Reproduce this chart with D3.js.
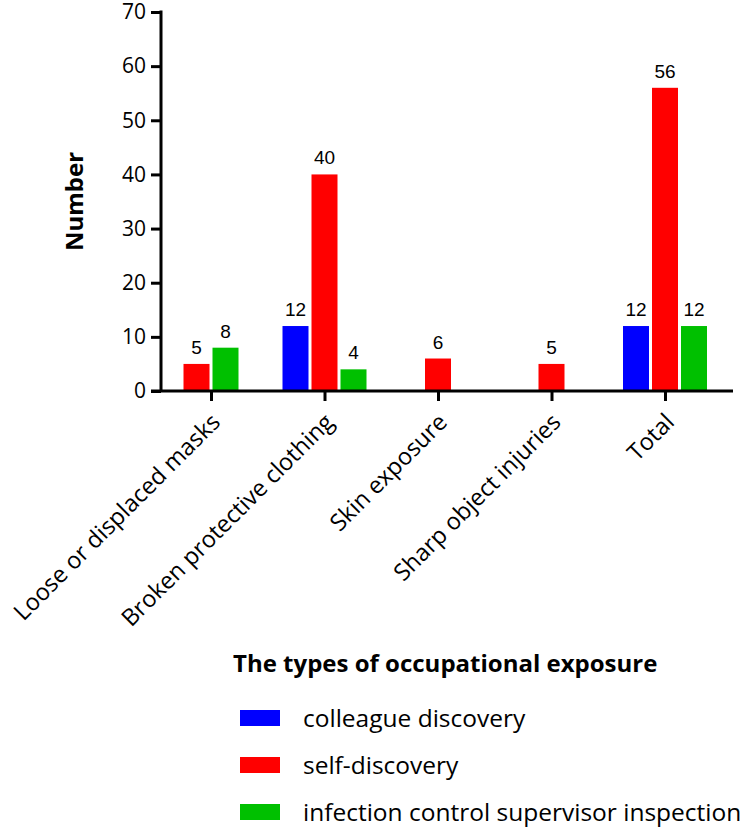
<!DOCTYPE html>
<html>
<head>
<meta charset="utf-8">
<script src="https://cdnjs.cloudflare.com/ajax/libs/d3/7.8.5/d3.min.js"></script>
<style>
  body { margin: 0; background: #fff; }
  svg text { font-family: "Open Sans", "Noto Sans", sans-serif; }
</style>
</head>
<body>
<div id="chart"></div>
<script>
// data
var categories = ["Loose or displaced masks", "Broken protective clothing", "Skin exposure", "Sharp object injuries", "Total"];
var seriesNames = ["colleague discovery", "self-discovery", "infection control supervisor inspection"];
var seriesColors = ["#0000ff", "#ff0000", "#00c000"];
var colleague = [0, 12, 0, 0, 12];
var self = [5, 40, 6, 5, 56];
var supervisor = [8, 4, 0, 0, 12];
var yTicks = [0, 10, 20, 30, 40, 50, 60, 70];
var legendTitle = "The types of occupational exposure";

var width = 750,
    height = 830;

var svg = d3.select("#chart")
    .append("svg")
    .attr("width", width)
    .attr("height", height);

var x0 = 161, x1 = 733, yTop = 12, yBot = 391;

var x = d3.scalePoint()
    .domain(categories)
    .range([211, 665]);

var y = d3.scaleLinear()
    .domain([0, 70])
    .range([yBot, yTop]);

var barW = 26, pitch = 29;

// one list of bars, zero values dropped, remaining bars centred on the tick
var series = [colleague, self, supervisor];
var bars = [];
categories.forEach(function (c, ci) {
    var present = [];
    series.forEach(function (s, si) {
        if (s[ci] > 0) present.push({ cat: c, s: si, v: s[ci] });
    });
    present.forEach(function (b, i) {
        b.cx = x(c) + (i - (present.length - 1) / 2) * pitch;
        bars.push(b);
    });
});

svg.append("g").selectAll("rect")
    .data(bars)
    .enter()
    .append("rect")
    .attr("x", function (d) { return d.cx - barW / 2; })
    .attr("y", function (d) { return y(d.v); })
    .attr("width", barW)
    .attr("height", function (d) { return y(0) - y(d.v); })
    .attr("fill", function (d) { return seriesColors[d.s]; });

svg.append("g").selectAll("text")
    .data(bars)
    .enter()
    .append("text")
    .attr("x", function (d) { return d.cx; })
    .attr("y", function (d) { return y(d.v) - 10; })
    .attr("text-anchor", "middle")
    .style("font-family", "'Liberation Sans', Arial, sans-serif")
    .style("font-size", "19px")
    .text(function (d) { return d.v; });

// y axis
var yAxis = svg.append("g")
    .attr("transform", "translate(" + x0 + ",0)")
    .call(d3.axisLeft(y).tickValues(yTicks).tickSize(10).tickPadding(5));
yAxis.select(".domain").attr("d", "M0," + (yTop - 1.5) + "V" + yBot);
yAxis.selectAll("line, path").attr("stroke", "#000").attr("stroke-width", 3);
yAxis.selectAll("text").style("font-size", "21px").attr("fill", "#000");

// x axis
var xAxis = svg.append("g")
    .attr("transform", "translate(0," + yBot + ")")
    .call(d3.axisBottom(x).tickSize(10).tickFormat(""));
xAxis.select(".domain").attr("d", "M" + (x0 - 10) + ",0H" + x1);
xAxis.selectAll("line, path").attr("stroke", "#000").attr("stroke-width", 3);

svg.append("g").selectAll("text")
    .data(categories)
    .enter()
    .append("text")
    .attr("transform", function (d) { return "translate(" + (x(d) - 1) + "," + (yBot + 21) + ") rotate(-45)"; })
    .attr("text-anchor", "end")
    .attr("dy", "0.7em")
    .style("font-size", "23.5px")
    .text(function (d) { return d; });

svg.append("text")
    .attr("transform", "translate(83," + ((yTop + yBot) / 2) + ") rotate(-90)")
    .attr("text-anchor", "middle")
    .style("font-size", "24px")
    .style("font-weight", "bold")
    .text("Number");

// legend
svg.append("text")
    .attr("x", 233)
    .attr("y", 672)
    .style("font-size", "24px")
    .style("font-weight", "bold")
    .text(legendTitle);

var legend = svg.append("g").selectAll("g")
    .data(seriesNames)
    .enter()
    .append("g")
    .attr("transform", function (d, i) { return "translate(240," + (710 + i * 47) + ")"; });

legend.append("rect")
    .attr("width", 40)
    .attr("height", 16)
    .attr("fill", function (d, i) { return seriesColors[i]; });

legend.append("text")
    .attr("x", 63)
    .attr("y", 17)
    .style("font-size", "24.5px")
    .text(function (d) { return d; });
</script>
</body>
</html>
